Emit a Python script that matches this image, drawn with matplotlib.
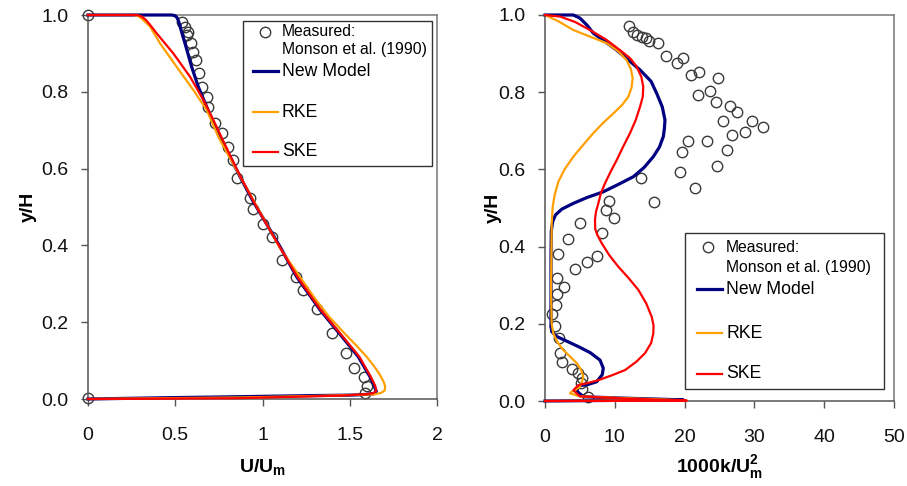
import matplotlib
matplotlib.use("Agg")
import matplotlib.pyplot as plt
from matplotlib.lines import Line2D
from matplotlib.patches import Rectangle

plt.rcParams['font.family'] = ['Liberation Sans', 'DejaVu Sans']
plt.rcParams['mathtext.fontset'] = 'custom'
plt.rcParams['mathtext.bf'] = 'Liberation Sans:bold'
plt.rcParams['mathtext.rm'] = 'Liberation Sans'

# ---------------- Velocity profile (U/Um vs y/H) ----------------
u_meas = [0.0, 0.537, 0.556, 0.575, 0.566, 0.589, 0.603, 0.617, 0.636, 0.652,
          0.680, 0.689, 0.728, 0.766, 0.804, 0.833, 0.852, 0.928, 0.947, 1.001,
          1.053, 1.110, 1.190, 1.234, 1.314, 1.397, 1.477, 1.526, 1.582, 1.601,
          1.587, 0.0]
yu_meas = [1.0, 0.983, 0.970, 0.957, 0.948, 0.928, 0.904, 0.883, 0.848, 0.812,
           0.786, 0.760, 0.718, 0.692, 0.657, 0.622, 0.575, 0.523, 0.496, 0.456,
           0.421, 0.362, 0.318, 0.284, 0.234, 0.171, 0.120, 0.080, 0.058, 0.035,
           0.015, 0.003]

u_new = [0.0, 0.48, 0.500, 0.512, 0.522, 0.535, 0.556, 0.594, 0.632, 0.680,
         0.728, 0.795, 0.871, 0.947, 1.005, 1.10, 1.196, 1.33, 1.44, 1.549,
         1.616, 1.640, 1.652, 1.640, 1.60, 1.50, 1.30, 0.87, 0.40, 0.0]
y_new_u = [1.0, 1.0, 0.998, 0.992, 0.980, 0.958, 0.926, 0.865, 0.813, 0.761,
           0.709, 0.648, 0.579, 0.514, 0.470, 0.397, 0.318, 0.232, 0.171, 0.110,
           0.058, 0.035, 0.020, 0.014, 0.012, 0.010, 0.009, 0.006, 0.003, 0.0]

u_rke = [0.0, 0.26, 0.285, 0.31, 0.355, 0.413, 0.508, 0.603, 0.680, 0.750,
         0.871, 1.000, 1.100, 1.300, 1.380, 1.470, 1.540, 1.597, 1.640, 1.670,
         1.692, 1.703, 1.700, 1.680, 1.640, 1.300, 0.870, 0.40, 0.0]
y_rke_u = [1.0, 1.0, 0.998, 0.990, 0.970, 0.926, 0.865, 0.805, 0.753, 0.680,
           0.580, 0.475, 0.393, 0.262, 0.215, 0.171, 0.138, 0.110, 0.085, 0.065,
           0.047, 0.033, 0.022, 0.016, 0.012, 0.008, 0.004, 0.002, 0.0]

u_ske = [0.0, 0.28, 0.305, 0.33, 0.36, 0.394, 0.489, 0.585, 0.661, 0.718,
         0.800, 0.875, 0.960, 1.100, 1.200, 1.330, 1.450, 1.555, 1.620, 1.645,
         1.652, 1.635, 1.580, 1.450, 1.200, 0.850, 0.0]
y_ske_u = [1.0, 1.0, 0.997, 0.988, 0.972, 0.952, 0.900, 0.839, 0.779, 0.727,
           0.648, 0.578, 0.505, 0.395, 0.318, 0.234, 0.168, 0.110, 0.058, 0.035,
           0.022, 0.015, 0.012, 0.009, 0.006, 0.002, 0.0]

# ---------------- Turbulent kinetic energy (1000k/Um^2 vs y/H) ----------------
k_meas = [12.08, 12.65, 13.22, 13.85, 14.47, 14.94, 16.15, 17.34, 18.95, 19.73,
          20.92, 22.11, 24.83, 21.96, 23.64, 24.50, 26.50, 27.55, 29.61, 31.28,
          25.54, 28.70, 26.79, 26.03, 20.53, 23.25, 19.58, 24.60, 19.34, 21.49,
          13.71, 15.66, 9.21, 8.74, 9.89, 5.01, 8.21, 3.34, 7.41, 5.97,
          1.91, 4.30, 1.68, 2.72, 1.68, 1.53, 0.96, 1.43, 2.01, 2.15,
          2.48, 3.91, 4.77, 5.26, 5.11, 5.34, 6.20]
yk_meas = [0.971, 0.957, 0.948, 0.944, 0.940, 0.933, 0.927, 0.895, 0.875, 0.888,
           0.845, 0.853, 0.836, 0.793, 0.803, 0.775, 0.765, 0.749, 0.725, 0.711,
           0.725, 0.696, 0.689, 0.650, 0.674, 0.674, 0.644, 0.610, 0.592, 0.551,
           0.577, 0.516, 0.519, 0.495, 0.475, 0.460, 0.436, 0.419, 0.376, 0.361,
           0.381, 0.342, 0.318, 0.295, 0.277, 0.249, 0.225, 0.194, 0.162, 0.124,
           0.101, 0.082, 0.073, 0.059, 0.046, 0.030, 0.010]

k_new = [0.0, 4.06, 5.0, 6.0, 6.92, 10.27, 13.6, 15.2, 16.0, 16.8,
         17.19, 17.1, 16.95, 16.4, 15.52, 14.2, 12.65, 10.5, 8.35, 6.0,
         4.06, 2.4, 1.5, 1.1, 0.90, 0.86, 0.86, 0.95, 1.68, 3.0,
         4.77, 6.5, 7.88, 8.35, 8.2, 7.41, 6.2, 4.77, 4.6, 5.5,
         12.0, 19.8, 0.0]
y_new_k = [1.0, 1.0, 0.992, 0.974, 0.953, 0.909, 0.858, 0.828, 0.797, 0.762,
           0.728, 0.705, 0.685, 0.658, 0.633, 0.605, 0.581, 0.561, 0.542, 0.527,
           0.512, 0.497, 0.482, 0.465, 0.440, 0.374, 0.195, 0.180, 0.167, 0.156,
           0.141, 0.125, 0.106, 0.085, 0.068, 0.050, 0.043, 0.039, 0.025, 0.011,
           0.007, 0.003, 0.0]

k_rke = [0.0, 2.0, 4.06, 6.6, 8.84, 10.5, 11.7, 12.3, 12.56, 12.4,
         11.93, 11.0, 9.79, 8.3, 6.92, 5.4, 4.06, 2.8, 1.91, 1.4,
         1.10, 0.96, 0.86, 0.95, 1.19, 1.8, 2.62, 3.6, 4.54, 5.2,
         5.49, 5.3, 5.01, 4.4, 3.82, 3.58, 5.0, 12.0, 20.0, 0.0]
y_rke_k = [1.0, 0.983, 0.961, 0.943, 0.927, 0.906, 0.883, 0.860, 0.836, 0.812,
           0.788, 0.766, 0.745, 0.720, 0.694, 0.662, 0.633, 0.600, 0.568, 0.535,
           0.503, 0.460, 0.288, 0.200, 0.175, 0.152, 0.132, 0.115, 0.098, 0.080,
           0.063, 0.050, 0.037, 0.029, 0.024, 0.020, 0.012, 0.007, 0.002, 0.0]

k_ske = [0.0, 2.15, 4.3, 6.45, 8.7, 10.75, 12.2, 13.14, 13.8, 14.08,
         14.0, 13.61, 13.0, 12.18, 11.2, 10.27, 9.4, 8.60, 8.0, 7.64,
         7.3, 7.16, 7.2, 7.5, 8.12, 9.2, 10.5, 12.0, 13.37, 14.5,
         15.29, 15.55, 15.52, 15.2, 14.33, 13.1, 11.46, 9.5, 7.64, 6.0,
         4.77, 4.06, 5.0, 12.0, 20.3, 0.0]
y_ske_k = [1.0, 0.996, 0.982, 0.961, 0.937, 0.909, 0.888, 0.866, 0.840, 0.814,
           0.788, 0.762, 0.728, 0.694, 0.659, 0.624, 0.594, 0.564, 0.538, 0.512,
           0.490, 0.469, 0.445, 0.430, 0.409, 0.378, 0.348, 0.318, 0.288, 0.253,
           0.218, 0.196, 0.175, 0.150, 0.124, 0.102, 0.080, 0.066, 0.054, 0.046,
           0.041, 0.028, 0.012, 0.006, 0.001, 0.0]

u_ticks = [0, 0.5, 1, 1.5, 2]
u_tick_labels = ['0', '0.5', '1', '1.5', '2']
k_ticks = [0, 10, 20, 30, 40, 50]
k_tick_labels = ['0', '10', '20', '30', '40', '50']
y_ticks = [0.0, 0.2, 0.4, 0.6, 0.8, 1.0]
y_tick_labels = ['0.0', '0.2', '0.4', '0.6', '0.8', '1.0']

NAVY = '#000080'
ORANGE = '#FFA000'
RED = '#FF0000'
SPINE = '#555555'
MARK = '#3a3a3a'

fig = plt.figure(figsize=(9.07, 4.86), dpi=100)
ax1 = fig.add_axes([88 / 907, 87 / 486, 349 / 907, 384 / 486])
ax2 = fig.add_axes([545 / 907, 85 / 486, 349 / 907, 386 / 486])


def style_axes(ax, xticks, xlabels, xlim, ylab_x, ylab_pad):
    ax.set_xlim(*xlim)
    ax.set_ylim(0, 1.0)
    ax.set_xticks(xticks)
    ax.set_xticklabels(xlabels)
    ax.set_yticks(y_ticks)
    ax.set_yticklabels(y_tick_labels)
    for side in ('left', 'bottom', 'top', 'right'):
        ax.spines[side].set_color(SPINE if side in ('left', 'bottom') else '#777777')
        ax.spines[side].set_linewidth(1.1)
    ax.tick_params(axis='both', direction='out', length=5, width=1.0,
                   color=SPINE, labelsize=14, labelcolor='#111111')
    ax.tick_params(axis='x', pad=15)
    ax.tick_params(axis='y', pad=ylab_pad)
    ax.set_ylabel('y/H', fontsize=14, fontweight='bold')
    ax.yaxis.set_label_coords(ylab_x, 0.5)


def draw_legend(ax, box, marker_xy, text_x, meas_y, line_x, entries):
    ax.add_patch(Rectangle((box[0], box[1]), box[2] - box[0], box[3] - box[1],
                           transform=ax.transAxes, facecolor='white',
                           edgecolor='#333333', linewidth=1.0, zorder=10))
    ax.add_line(Line2D([marker_xy[0]], [marker_xy[1]], transform=ax.transAxes,
                       marker='o', markersize=7.5, markerfacecolor='none',
                       markeredgecolor=MARK, markeredgewidth=1.0, zorder=11))
    ax.text(text_x, meas_y[0], 'Measured:', transform=ax.transAxes,
            fontsize=11.3, va='center', ha='left', zorder=11)
    ax.text(text_x, meas_y[1], 'Monson et al. (1990)', transform=ax.transAxes,
            fontsize=11.3, va='center', ha='left', zorder=11)
    for label, color, lw, yy in entries:
        ax.add_line(Line2D(line_x, [yy, yy], transform=ax.transAxes,
                           color=color, linewidth=lw, zorder=11))
        ax.text(text_x, yy, label, transform=ax.transAxes, fontsize=12.7,
                va='center', ha='left', zorder=11)


# Left panel: mean velocity
ax1.plot(u_meas, yu_meas, linestyle='none', marker='o', markersize=7.5,
         markerfacecolor='none', markeredgecolor=MARK, markeredgewidth=1.0,
         clip_on=False, zorder=2)
ax1.plot(u_new, y_new_u, color=NAVY, lw=2.3, clip_on=False, zorder=3)
ax1.plot(u_rke, y_rke_u, color=ORANGE, lw=1.6, clip_on=False, zorder=4)
ax1.plot(u_ske, y_ske_u, color=RED, lw=1.6, clip_on=False, zorder=5)
style_axes(ax1, u_ticks, u_tick_labels, (0, 2), -0.146, 9)
ax1.set_xlabel('U/U$_\\mathbf{m}$', fontsize=14, fontweight='bold')
ax1.xaxis.set_label_coords(0.5, -0.152)
draw_legend(ax1, (0.443, 0.608, 0.987, 0.985), (0.507, 0.957), 0.555,
            (0.957, 0.911), (0.472, 0.545),
            [('New Model', NAVY, 2.3, 0.854),
             ('RKE', ORANGE, 1.6, 0.747),
             ('SKE', RED, 1.6, 0.644)])

# Right panel: turbulent kinetic energy
ax2.plot(k_meas, yk_meas, linestyle='none', marker='o', markersize=7.5,
         markerfacecolor='none', markeredgecolor=MARK, markeredgewidth=1.0,
         clip_on=False, zorder=2)
ax2.plot(k_new, y_new_k, color=NAVY, lw=2.3, clip_on=False, zorder=3)
ax2.plot(k_rke, y_rke_k, color=ORANGE, lw=1.6, clip_on=False, zorder=4)
ax2.plot(k_ske, y_ske_k, color=RED, lw=1.6, clip_on=False, zorder=5)
style_axes(ax2, k_ticks, k_tick_labels, (0, 50), -0.123, 9)
ax2.set_xlabel('1000k/U$_\\mathbf{m}^\\mathbf{2}$', fontsize=14, fontweight='bold')
ax2.xaxis.set_label_coords(0.5, -0.137)
draw_legend(ax2, (0.401, 0.030, 0.970, 0.434), (0.468, 0.398), 0.519,
            (0.398, 0.345), (0.435, 0.506),
            [('New Model', NAVY, 2.3, 0.289),
             ('RKE', ORANGE, 1.6, 0.175),
             ('SKE', RED, 1.6, 0.071)])

fig.savefig('out.png', dpi=100)
